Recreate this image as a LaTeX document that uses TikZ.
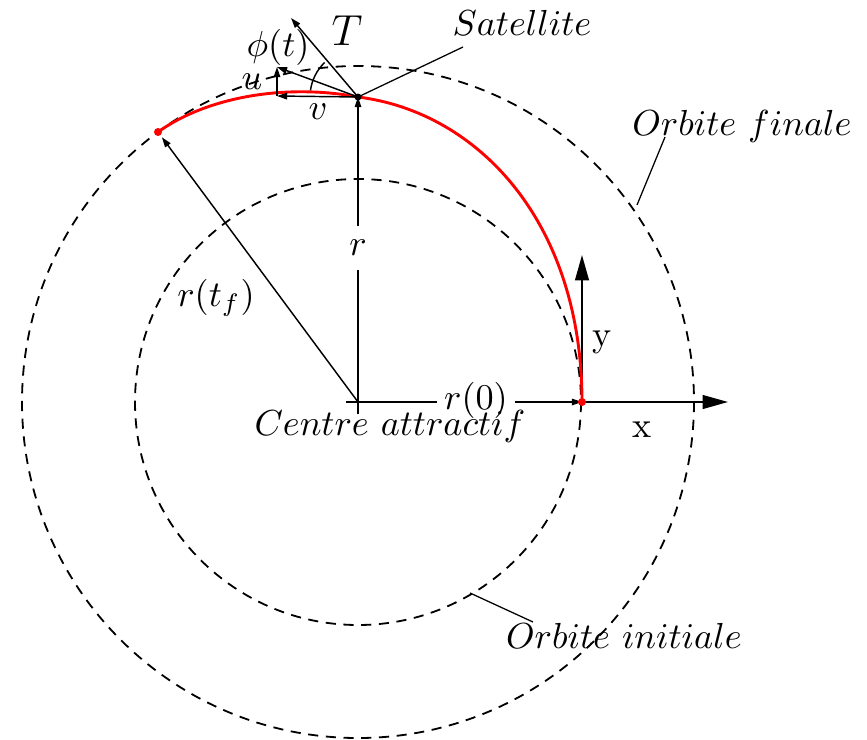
\documentclass[tikz,border=0pt]{standalone}
\usetikzlibrary{arrows.meta}
\begin{document}
\begin{tikzpicture}[x=0.2762pt,y=-0.2762pt,
  thinline/.style={line width=0.4pt},
  orbit/.style={line width=0.5pt,dash pattern=on 2.8pt off 2.1pt},
  smallarrow/.style={thinline,-{Triangle[length=2.8pt,width=1.8pt]}},
  bigarrow/.style={line width=0.5pt,-{Triangle[length=7pt,width=3.8pt]}},
  leader/.style={line width=0.35pt},
  traj/.style={red,line width=0.8pt,line cap=round},
  lab/.style={inner sep=1pt},
  whitelab/.style={inner sep=0pt,fill=white}]
\useasboundingbox (0,0) rectangle (867,739);
% key points
\coordinate (O) at (358,402);
\coordinate (S) at (358,97);
\coordinate (F) at (158,132);
\coordinate (I) at (582,402);
\coordinate (Xtip) at (728,402);
\coordinate (Ytip) at (582,255);
\coordinate (Ttip) at (291,18);
\coordinate (Vtip) at (277,96);
\coordinate (Utip) at (277,67);
\coordinate (SatEnd) at (463,47);
\coordinate (FinA) at (665,137);
\coordinate (FinB) at (637,205);
\coordinate (IniA) at (533,622);
\coordinate (IniB) at (470,593);
% orbits
\draw[orbit] (O) circle[radius=336];
\draw[orbit] (O) circle[radius=223];
% centre cross
\draw[thinline] (O) ++(-12,0) -- (O);
\draw[thinline] (O) -- ++(0,12);
% radii
\draw[smallarrow] (O) -- (S);
\draw[smallarrow,shorten >=1.8pt] (O) -- (F);
\draw[smallarrow] (O) -- (I);
% axes
\draw[bigarrow] (I) -- (Xtip);
\draw[bigarrow] (I) -- (Ytip);
% trajectory
\draw[traj] (I) .. controls (582,222) and (478,112) .. (S)
  .. controls (290,84) and (210,95) .. (F);
\fill[red] (I) circle[radius=4];
\fill[red] (F) circle[radius=4];
% thrust and velocity
\draw[smallarrow] (S) -- (Ttip);
\draw[smallarrow] (S) -- (Vtip);
\draw[smallarrow] (Vtip) -- (Utip);
\draw[smallarrow] (S) -- (Utip);
\draw[thinline] (S) ++(-134:48) arc[start angle=-134,end angle=-172,radius=48];
\fill (S) circle[radius=3.5];
% leaders
\draw[leader] (S) -- (SatEnd);
\draw[leader] (FinA) -- (FinB);
\draw[leader] (IniA) -- (IniB);
% labels
\node[whitelab,inner ysep=4pt,inner xsep=1pt] (rl) at (358,248) {$r$};
\node[whitelab,inner xsep=2pt] (r0l) at (476,400) {$r(0)$};
\node[lab,anchor=base] (sat) at (522,35) {$Satellite$};
\node[lab,anchor=base] (fin) at (742,135) {$Orbite\ finale$};
\node[lab,anchor=base] (ini) at (624,648) {$Orbite\ initiale$};
\node[lab,anchor=base] (cen) at (390,435) {$Centre\ attractif$};
\node[lab] (tl) at (347,31) {\large $T$};
\node[lab] (phil) at (278,47) {$\phi(t)$};
\node[lab] (ul) at (252,82) {$u$};
\node[lab] (vl) at (318,112) {$v$};
\node[lab] (rtfl) at (216,298) {$r(t_f)$};
\node[lab] (xl) at (642,430) {x};
\node[lab] (yl) at (602,342) {y};
\end{tikzpicture}
\end{document}
